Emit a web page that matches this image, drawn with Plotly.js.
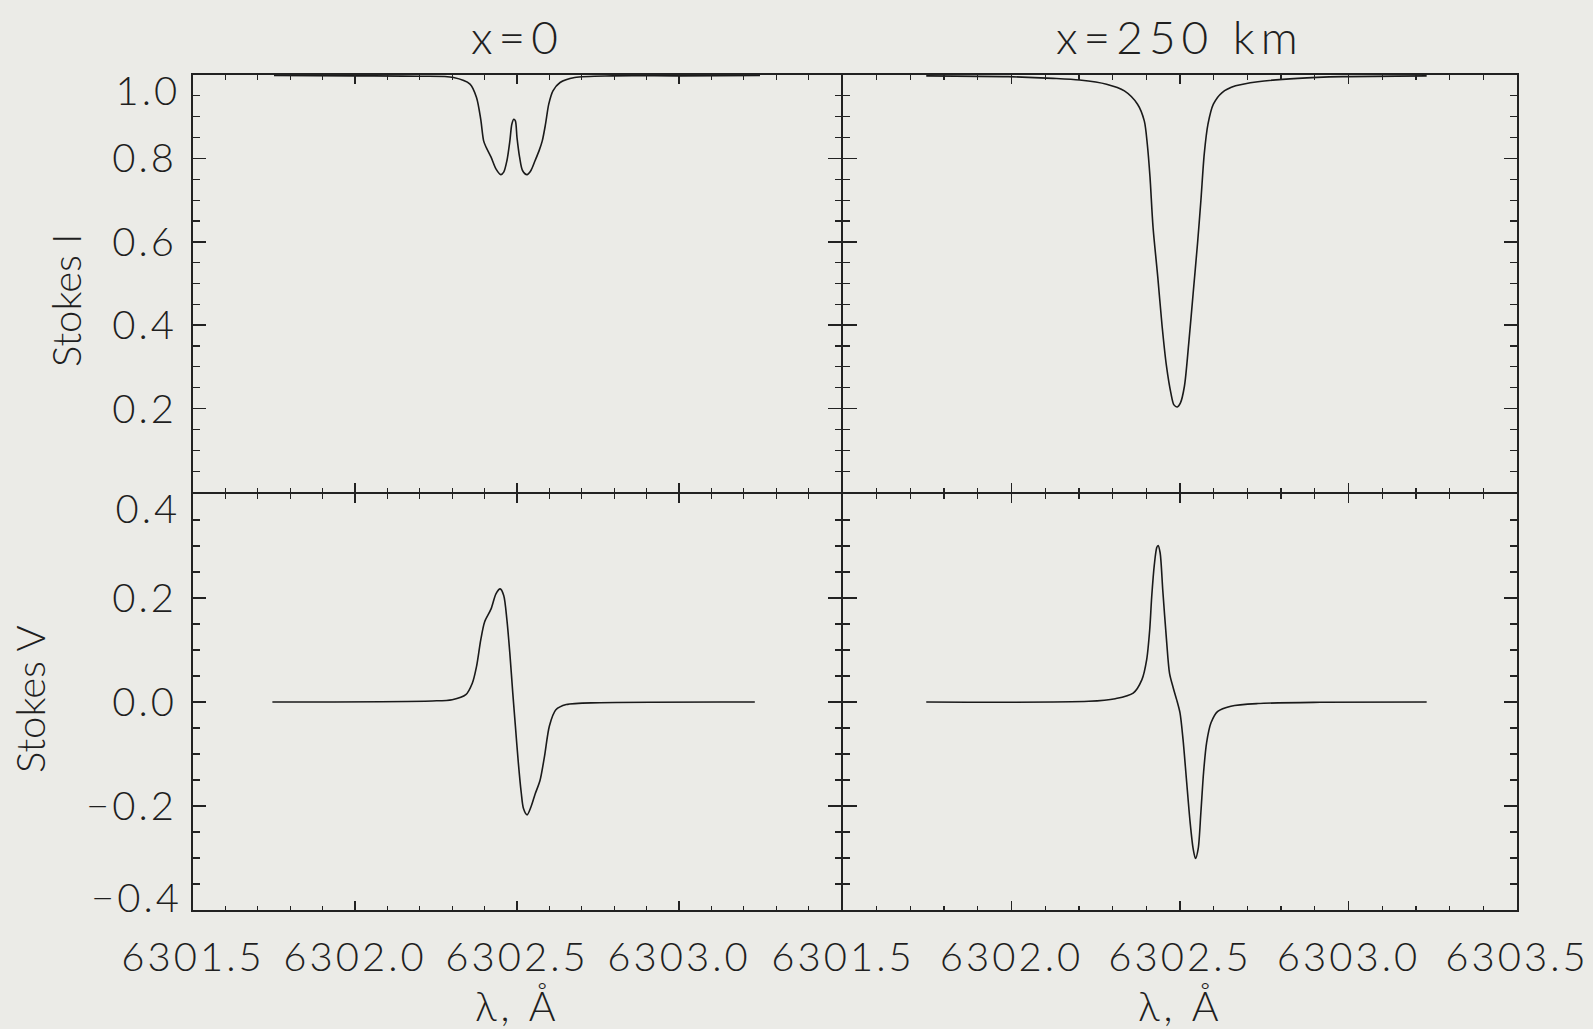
<!DOCTYPE html>
<html>
<head>
<meta charset="utf-8">
<script src="https://cdn.plot.ly/plotly-3.0.1.min.js"></script>
<style>
html,body{margin:0;padding:0;background:#ebebe7;}
#chart{width:1593px;height:1029px;}
.xtick text, .x2tick text, .x3tick text, .x4tick text,
.ytick text, .y2tick text, .y3tick text, .y4tick text { letter-spacing: 3px; }
.annotation[data-index="0"] text, .annotation[data-index="1"] text { letter-spacing: 6px; }
.annotation[data-index="2"] text, .annotation[data-index="3"] text { letter-spacing: 4px; }
.annotation[data-index="6"] text, .annotation[data-index="7"] text, .annotation[data-index="8"] text { letter-spacing: 3px; }
</style>
</head>
<body>
<div id="chart"></div>
<script>
// ---- Data ----
// Stokes I, x = 0
const lamI0 = [6301.75, 6302.00, 6302.20, 6302.304, 6302.355, 6302.375, 6302.388, 6302.397, 6302.404, 6302.420, 6302.435, 6302.450, 6302.459, 6302.469, 6302.478, 6302.484, 6302.490, 6302.495, 6302.500, 6302.508, 6302.517, 6302.531, 6302.543, 6302.556, 6302.568, 6302.578, 6302.588, 6302.598, 6302.611, 6302.633, 6302.678, 6302.795, 6303.00, 6303.25];
const stokesI0 = [0.999, 0.998, 0.997, 0.994, 0.978, 0.946, 0.894, 0.842, 0.828, 0.803, 0.775, 0.761, 0.767, 0.795, 0.842, 0.882, 0.894, 0.890, 0.850, 0.803, 0.771, 0.761, 0.771, 0.795, 0.818, 0.842, 0.882, 0.930, 0.962, 0.982, 0.994, 0.998, 0.998, 0.999];

// Stokes I, x = 250 km
const lamI250 = [6301.747, 6301.991, 6302.123, 6302.202, 6302.282, 6302.335, 6302.374, 6302.394, 6302.403, 6302.411, 6302.420, 6302.434, 6302.447, 6302.460, 6302.473, 6302.482, 6302.492, 6302.501, 6302.513, 6302.526, 6302.539, 6302.552, 6302.562, 6302.572, 6302.583, 6302.599, 6302.625, 6302.665, 6302.731, 6302.850, 6302.982, 6303.232];
const stokesI250 = [0.998, 0.996, 0.992, 0.988, 0.978, 0.962, 0.930, 0.890, 0.834, 0.755, 0.635, 0.516, 0.397, 0.301, 0.237, 0.209, 0.204, 0.213, 0.253, 0.357, 0.476, 0.596, 0.699, 0.811, 0.882, 0.930, 0.958, 0.974, 0.984, 0.992, 0.996, 0.998];

// Stokes V, x = 0
const lamV0 = [6301.745, 6302.239, 6302.30, 6302.342, 6302.362, 6302.375, 6302.388, 6302.400, 6302.420, 6302.435, 6302.448, 6302.459, 6302.469, 6302.478, 6302.487, 6302.495, 6302.504, 6302.513, 6302.520, 6302.531, 6302.543, 6302.556, 6302.571, 6302.585, 6302.600, 6302.620, 6302.652, 6302.756, 6303.234];
const stokesV0 = [0.0, 0.002, 0.0045, 0.014, 0.036, 0.068, 0.119, 0.154, 0.179, 0.208, 0.2175, 0.205, 0.157, 0.093, 0.017, -0.046, -0.116, -0.174, -0.205, -0.217, -0.202, -0.177, -0.151, -0.104, -0.046, -0.015, -0.005, -0.0013, 0.0];

// Stokes V, x = 250 km
const lamV250 = [6301.747, 6302.229, 6302.308, 6302.361, 6302.387, 6302.401, 6302.410, 6302.416, 6302.424, 6302.431, 6302.435, 6302.441, 6302.449, 6302.460, 6302.469, 6302.480, 6302.490, 6302.500, 6302.509, 6302.519, 6302.530, 6302.539, 6302.546, 6302.554, 6302.562, 6302.570, 6302.579, 6302.592, 6302.612, 6302.651, 6302.731, 6302.916, 6303.232];
const stokesV250 = [0.0, 0.0013, 0.0064, 0.017, 0.043, 0.081, 0.138, 0.202, 0.265, 0.297, 0.301, 0.287, 0.214, 0.119, 0.055, 0.027, 0.0045, -0.021, -0.072, -0.148, -0.231, -0.282, -0.301, -0.282, -0.212, -0.135, -0.078, -0.040, -0.018, -0.008, -0.003, -0.0006, 0.0];

// Tick values and labels
const xTickValsLeft = [6301.5, 6302.0, 6302.5, 6303.0, 6303.5];
const xTickTextLeft = ['6301.5', '6302.0', '6302.5', '6303.0', ''];
const xTickValsRight = [6301.5, 6302.0, 6302.5, 6303.0, 6303.5];
const xTickTextRight = ['6301.5', '6302.0', '6302.5', '6303.0', '6303.5'];
const yTickValsI = [0.0, 0.2, 0.4, 0.6, 0.8, 1.0];
const yTickTextI = ['', '0.2', '0.4', '0.6', '0.8', ''];
const yTickValsV = [-0.4, -0.2, 0.0, 0.2, 0.4];
const yTickTextV = ['', '\u22120.2', '0.0', '0.2', ''];
const panelTitles = ['x=0', 'x=250 km'];
const yTitles = ['Stokes I', 'Stokes V'];
const xTitle = '\u03bb, \u00c5';

// ---- Styling ----
const W = 1593, H = 1029;
const BG = '#ebebe7';
const INK = '#222222';
const FONT = {family: 'Lato, "Open Sans", Roboto, sans-serif', size: 40, color: '#1f1f1f', weight: 300};

const xL = [193 / W, 841 / W];
const xR = [843 / W, 1517 / W];
const yT = [1 - 492 / H, 1 - 75 / H];
const yB = [1 - 910 / H, 1 - 494 / H];

function xaxis(domain, anchor, showLabels, vals, text) {
  return {
    domain: domain, anchor: anchor, range: [6301.5, 6303.5],
    showline: true, linewidth: 2, linecolor: INK, mirror: 'ticks',
    ticks: 'inside', ticklen: 9, tickwidth: 1.5, tickcolor: INK,
    tickmode: 'array', tickvals: vals, ticktext: text,
    showticklabels: showLabels, tickfont: FONT, ticklabelstandoff: 11,
    minor: {tickmode: 'linear', tick0: 6301.5, dtick: 0.1, ticks: 'inside', ticklen: 4.5, tickwidth: 1.2, tickcolor: INK, showgrid: false},
    showgrid: false, zeroline: false, fixedrange: true
  };
}
function yaxis(domain, anchor, range, showLabels, vals, text, ylen) {
  return {
    domain: domain, anchor: anchor, range: range,
    showline: true, linewidth: 2, linecolor: INK, mirror: 'ticks',
    ticks: 'inside', ticklen: ylen, tickwidth: 1.5, tickcolor: INK,
    tickmode: 'array', tickvals: vals, ticktext: text,
    showticklabels: showLabels, tickfont: FONT, ticklabelstandoff: 6,
    minor: {tickmode: 'linear', tick0: 0, dtick: 0.05, ticks: 'inside', ticklen: ylen / 2, tickwidth: 1.2, tickcolor: INK, showgrid: false},
    showgrid: false, zeroline: false, fixedrange: true
  };
}

const lineStyle = {color: '#1a1a1a', width: 1.6, shape: 'spline', smoothing: 0.8};
const traces = [
  {x: lamI0, y: stokesI0, xaxis: 'x', yaxis: 'y', mode: 'lines', line: lineStyle, hoverinfo: 'skip'},
  {x: lamI250, y: stokesI250, xaxis: 'x2', yaxis: 'y2', mode: 'lines', line: lineStyle, hoverinfo: 'skip'},
  {x: lamV0, y: stokesV0, xaxis: 'x3', yaxis: 'y3', mode: 'lines', line: lineStyle, hoverinfo: 'skip'},
  {x: lamV250, y: stokesV250, xaxis: 'x4', yaxis: 'y4', mode: 'lines', line: lineStyle, hoverinfo: 'skip'}
];

const annotations = [
  {text: panelTitles[0], xref: 'x domain', x: 0.5, yref: 'paper', y: 1 - 37 / H, xanchor: 'center', yanchor: 'middle', showarrow: false, font: Object.assign({}, FONT, {size: 46})},
  {text: panelTitles[1], xref: 'x2 domain', x: 0.5, yref: 'paper', y: 1 - 37 / H, xanchor: 'center', yanchor: 'middle', showarrow: false, font: Object.assign({}, FONT, {size: 46})},
  {text: xTitle, xref: 'x3 domain', x: 0.5, yref: 'paper', y: 1 - 1005 / H, xanchor: 'center', yanchor: 'middle', showarrow: false, font: Object.assign({}, FONT, {size: 41})},
  {text: xTitle, xref: 'x4 domain', x: 0.5, yref: 'paper', y: 1 - 1005 / H, xanchor: 'center', yanchor: 'middle', showarrow: false, font: Object.assign({}, FONT, {size: 41})},
  {text: yTitles[0], xref: 'paper', x: 66 / W, yref: 'paper', y: 1 - 301 / H, textangle: -90, xanchor: 'center', yanchor: 'middle', showarrow: false, font: FONT},
  {text: yTitles[1], xref: 'paper', x: 30 / W, yref: 'paper', y: 1 - 699 / H, textangle: -90, xanchor: 'center', yanchor: 'middle', showarrow: false, font: FONT},
  // end-of-axis labels, shifted inward as in the reference
  {text: yTickValsI[5].toFixed(1), xref: 'paper', x: 178 / W, yref: 'y', y: yTickValsI[5], xanchor: 'right', yanchor: 'middle', yshift: -15, showarrow: false, font: FONT},
  {text: yTickValsV[4].toFixed(1), xref: 'paper', x: 178 / W, yref: 'y3', y: yTickValsV[4], xanchor: 'right', yanchor: 'middle', yshift: -14, showarrow: false, font: FONT},
  {text: '\u2212' + Math.abs(yTickValsV[0]).toFixed(1), xref: 'paper', x: 178 / W, yref: 'y3', y: yTickValsV[0], xanchor: 'right', yanchor: 'middle', yshift: 13, showarrow: false, font: FONT}
];

const layout = {
  width: W, height: H,
  margin: {l: 0, r: 0, t: 0, b: 0, pad: 0},
  paper_bgcolor: BG, plot_bgcolor: BG,
  showlegend: false,
  font: FONT,
  xaxis: xaxis(xL, 'y', false, xTickValsLeft, xTickTextLeft),
  xaxis2: xaxis(xR, 'y2', false, xTickValsRight, xTickTextRight),
  xaxis3: xaxis(xL, 'y3', true, xTickValsLeft, xTickTextLeft),
  xaxis4: xaxis(xR, 'y4', true, xTickValsRight, xTickTextRight),
  yaxis: yaxis(yT, 'x', [0, 1.0], true, yTickValsI, yTickTextI, 13),
  yaxis2: yaxis(yT, 'x2', [0, 1.0], false, yTickValsI, yTickTextI, 13.5),
  yaxis3: yaxis(yB, 'x3', [-0.4, 0.4], true, yTickValsV, yTickTextV, 13),
  yaxis4: yaxis(yB, 'x4', [-0.4, 0.4], false, yTickValsV, yTickTextV, 13.5),
  annotations: annotations
};

Plotly.newPlot('chart', traces, layout, {staticPlot: true, displayModeBar: false});
</script>
</body>
</html>
